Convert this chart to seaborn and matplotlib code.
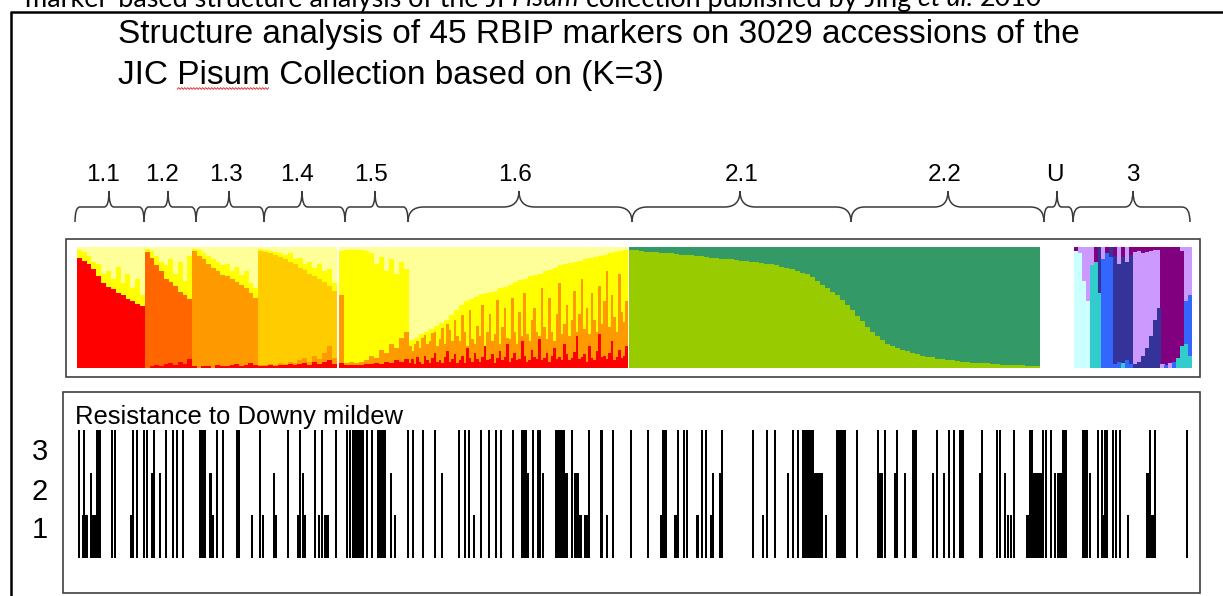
import numpy as np
import seaborn as sns
import matplotlib.pyplot as plt
from matplotlib.path import Path
from matplotlib.patches import PathPatch, Rectangle

# Cluster colours
cluster_colors = {
    'red': '#FF0000', 'darkorange': '#FF6600', 'orange': '#FF9900', 'gold': '#FFCC00',
    'yellow': '#FFFF00', 'lightyellow': '#FFFF99', 'yellowgreen': '#99CC00', 'seagreen': '#339966',
    'lightcyan': '#CCFFFF', 'turquoise': '#33CCCC', 'blue': '#3366FF', 'darkblue': '#333399',
    'lavender': '#CC99FF', 'purple': '#800080',
}

# Structure plot, cumulative membership per column (bottom -> top)
g11_main = [0.91, 0.89, 0.86, 0.82, 0.76, 0.70, 0.67, 0.65, 0.62, 0.60, 0.57, 0.55, 0.53, 0.51]
g11_fringe = [0.98, 0.96, 0.93, 0.88, 0.86, 0.78, 0.80, 0.74, 0.84, 0.70, 0.78, 0.66, 0.74, 0.60]

g12_red = [0.00, 0.01, 0.02, 0.01, 0.03, 0.04, 0.02, 0.05, 0.03, 0.07]
g12_main = [0.96, 0.91, 0.85, 0.80, 0.74, 0.71, 0.68, 0.63, 0.60, 0.57]
g12_fringe = [0.99, 0.97, 0.93, 0.88, 0.85, 0.90, 0.78, 0.88, 0.72, 0.93]

g13_red = [0.01, 0.00, 0.01, 0.01, 0.00, 0.02, 0.01, 0.01, 0.02, 0.03, 0.01, 0.02, 0.04, 0.02]
g13_main = [0.97, 0.93, 0.90, 0.86, 0.83, 0.80, 0.77, 0.76, 0.74, 0.71, 0.69, 0.66, 0.62, 0.58]
g13_fringe = [0.99, 0.98, 0.95, 0.93, 0.90, 0.88, 0.85, 0.86, 0.80, 0.84, 0.77, 0.80, 0.70, 0.66]

g14_red = [0.01, 0.01, 0.02, 0.01, 0.02, 0.02, 0.03, 0.02, 0.03, 0.04, 0.02, 0.05, 0.03, 0.05, 0.06, 0.03]
g14_orange = [0.02, 0.02, 0.03, 0.02, 0.04, 0.03, 0.05, 0.04, 0.06, 0.08, 0.05, 0.10, 0.07, 0.12, 0.18, 0.08]
g14_main = [0.97, 0.96, 0.95, 0.94, 0.92, 0.90, 0.88, 0.86, 0.83, 0.81, 0.78, 0.76, 0.74, 0.71, 0.68, 0.64]
g14_fringe = [0.99, 0.98, 0.97, 0.96, 0.95, 0.94, 0.95, 0.90, 0.91, 0.86, 0.88, 0.83, 0.86, 0.80, 0.82, 0.70]

g15_red = [0.04, 0.02, 0.02, 0.02, 0.02, 0.03, 0.03, 0.04, 0.03, 0.05, 0.04, 0.06, 0.05, 0.07]
g15_orange = [0.60, 0.04, 0.05, 0.04, 0.05, 0.06, 0.10, 0.08, 0.15, 0.12, 0.20, 0.16, 0.25, 0.30]
g15_main = [0.97, 0.98, 0.98, 0.98, 0.98, 0.97, 0.95, 0.86, 0.92, 0.80, 0.90, 0.78, 0.88, 0.82]

g16_red = [.04, .07, .03, .09, .05, .03, .10, .06, .04, .08, .12, .05, .06, .04, .09, .14, .05, .07, .11, .04,
           .06, .10, .04, .16, .08, .05, .12, .07, .05, .09, .18, .06, .07, .11, .04, .08, .14, .06, .09, .20,
           .05, .08, .12, .06, .07, .22, .10, .05, .06, .15, .09, .07, .24, .06, .08, .12, .05, .10, .16, .07,
           .09, .06, .20, .11, .06, .08, .13, .26, .07, .09, .11, .05, .18, .08, .06, .14, .28, .09, .10, .07,
           .12, .22, .06, .09, .15, .08, .10, .18]
g16_orange = [.18, .14, .20, .22, .16, .25, .27, .20, .22, .29, .30, .18, .24, .33, .20, .36, .31, .22, .40, .26,
              .22, .44, .30, .18, .48, .24, .20, .35, .26, .52, .18, .30, .45, .22, .28, .56, .20, .34, .50, .25,
              .24, .58, .30, .20, .46, .26, .62, .28, .22, .40, .50, .30, .26, .66, .34, .24, .58, .30, .22, .45,
              .70, .28, .36, .52, .26, .40, .64, .30, .45, .74, .32, .50, .28, .62, .40, .30, .68, .36, .55, .80,
              .34, .60, .42, .30, .78, .46, .38, .55]
g16_main = [.23, .25, .28, .30, .32, .35, .37, .40, .44, .48,
            .52, .55, .57, .59, .61, .62, .63, .64, .66, .67,
            .69, .71, .73, .74, .76, .77, .78, .80, .81, .83,
            .85, .86, .87, .88, .89, .90, .91, .92, .93, .94,
            .95, .96, .97, .98]

g2_main = [.98, .975, .97, .965, .96, .96, .955, .95, .95, .945,
           .94, .94, .935, .93, .925, .92, .915, .91, .905, .90,
           .90, .895, .89, .885, .88, .875, .87, .865, .86, .85,
           .84, .83, .82, .80, .79, .775, .75, .72, .69, .66,
           .63, .60, .56, .52, .48, .43, .39, .34, .30, .26,
           .23, .20, .18, .16, .145, .135, .125, .11, .10, .09,
           .085, .075, .07, .065, .06, .055, .05, .045, .04, .04,
           .035, .035, .03, .03, .025, .025, .02, .02, .02, .015,
           .015, .015]

g3_bottom = [0, 0, 0, 0, 0, 0, 0, 0, 0, 0, .03, .05, .04, .06, .03,
             .03, .05, .10, .16, .26, .40, .50, .03, .02, .04, .05, .08, .18, .20, .10]
g3_bottom_color = ['lightcyan', 'lightcyan', 'lightcyan', 'lightcyan', 'turquoise', 'turquoise',
                   'turquoise', 'blue', 'blue', 'blue', 'blue', 'blue', 'turquoise', 'blue', 'blue',
                   'darkblue', 'darkblue', 'darkblue', 'darkblue', 'darkblue', 'darkblue', 'darkblue',
                   'lavender', 'blue', 'lavender', 'blue', 'turquoise', 'turquoise', 'turquoise', 'turquoise']
g3_main = [.97, .95, .72, .55, .85, .88, .62, .90, .95, .92, .93, .86, .92, .88, .94,
           .96, .97, .95, .96, .97, .98, .98, .99, .99, .99, .99, .98, .97, .55, .60]
g3_main_color = ['lightcyan', 'lightcyan', 'lightcyan', 'lightcyan', 'turquoise', 'turquoise',
                 'turquoise', 'blue', 'blue', 'blue', 'darkblue', 'darkblue', 'darkblue', 'darkblue',
                 'darkblue', 'lavender', 'lavender', 'lavender', 'lavender', 'lavender', 'lavender',
                 'lavender', 'purple', 'purple', 'purple', 'purple', 'purple', 'purple', 'blue', 'blue']
g3_cap_color = ['purple', 'lavender', 'lavender', 'lavender', 'lavender', 'purple', 'darkblue',
                'lavender', 'purple', 'darkblue', 'purple', 'lavender', 'purple', 'lavender', 'purple',
                'purple', 'purple', 'purple', 'purple', 'purple', 'purple', 'purple', 'purple', 'purple',
                'purple', 'purple', 'purple', 'lavender', 'lavender', 'lavender']

group_labels = ['1.1', '1.2', '1.3', '1.4', '1.5', '1.6', '2.1', '2.2', 'U', '3']

# Resistance to downy mildew score (1-3) along the accession order
res_pos = [79, 83, 84, 85, 86, 87, 91, 92, 93, 94, 95, 96, 97, 98, 99, 100,
           112, 115, 131, 133, 137, 144, 147, 152, 153, 154, 160, 166, 173, 177, 183,
           200, 201, 202, 203, 204, 205, 210, 211, 213, 217, 223, 237, 239, 252, 260, 263,
           274, 276, 288, 298, 300, 303, 305, 315, 319, 322, 325, 326, 327, 328, 336,
           347, 350, 353, 354, 355, 356, 357, 358, 359, 360, 361, 362, 363, 367, 372,
           378, 379, 380, 381, 382, 383, 384, 385, 391, 395, 408, 413,
           423, 435, 442, 459, 465, 469, 474, 481, 489, 496, 501, 513,
           522, 523, 524, 525, 526, 527, 528, 533, 538, 539, 540, 543,
           556, 557, 558, 559, 560, 561, 562, 563, 564, 565, 566, 567, 572,
           575, 576, 577, 578, 580, 581, 585, 586, 587, 589, 601, 602, 607, 613,
           631, 648, 661, 662, 663, 664, 665, 666, 675, 676, 677, 678, 684, 687,
           697, 698, 702, 706, 711, 713, 720, 722, 753, 763, 767, 775, 788,
           793, 798, 803, 805, 806, 807, 808, 809, 810, 811, 812, 813,
           814, 815, 816, 818, 819, 820, 821, 822, 826,
           837, 838, 839, 840, 841, 842, 843, 844, 845, 857, 878, 880, 881, 882, 885,
           895, 897, 905, 913, 914, 915, 916, 933, 937, 944, 949, 954,
           960, 961, 962, 963, 980, 982, 997, 1000, 1005, 1008, 1011, 1014,
           1027, 1028, 1029, 1030, 1031, 1032, 1033, 1034, 1035, 1036, 1038, 1039, 1040, 1041, 1042,
           1043, 1046, 1051, 1055, 1058, 1059, 1060, 1061, 1063, 1064, 1065, 1066,
           1083, 1084, 1085, 1086, 1087, 1090, 1098, 1102, 1103, 1105, 1107,
           1113, 1116, 1120, 1128, 1147, 1148, 1150, 1151, 1152, 1153, 1155, 1187]
res_score = [3, 1, 3, 1, 1, 1, 2, 1, 1, 1, 1, 1, 3, 3, 3, 3,
             3, 3, 1, 3, 3, 3, 3, 2, 2, 3, 2, 3, 3, 3, 3,
             3, 3, 3, 3, 3, 3, 2, 2, 1, 3, 3, 3, 3, 1, 3, 1,
             2, 1, 3, 1, 3, 2, 1, 3, 1, 3, 1, 1, 1, 1, 3,
             3, 3, 3, 3, 3, 3, 3, 3, 3, 3, 3, 3, 3, 3, 3,
             3, 3, 3, 3, 3, 3, 3, 3, 2, 1, 3, 3,
             3, 3, 2, 3, 3, 3, 1, 3, 3, 3, 3, 3,
             3, 3, 3, 3, 3, 2, 2, 3, 3, 3, 3, 2,
             3, 3, 3, 3, 3, 3, 3, 3, 3, 2, 2, 2, 3,
             2, 2, 2, 2, 1, 1, 1, 1, 1, 3, 3, 3, 1, 3,
             3, 3, 1, 1, 3, 3, 3, 3, 1, 1, 1, 3, 3, 3,
             1, 1, 3, 3, 1, 2, 2, 3, 3, 1, 3, 3, 2,
             3, 3, 3, 3, 3, 3, 3, 3, 3, 3, 3, 3,
             2, 2, 2, 2, 2, 2, 2, 2, 1,
             3, 3, 3, 3, 3, 3, 3, 3, 3, 3, 3, 2, 2, 2, 3,
             2, 3, 2, 3, 3, 3, 3, 2, 3, 2, 3, 3,
             3, 3, 3, 3, 2, 3, 3, 3, 2, 1, 1, 3,
             1, 1, 1, 3, 3, 3, 2, 2, 2, 2, 2, 2, 2, 2, 2,
             3, 3, 3, 2, 2, 2, 2, 2, 3, 3, 3, 3,
             3, 3, 3, 3, 3, 2, 3, 3, 1, 3, 3,
             3, 3, 3, 1, 2, 2, 3, 1, 1, 1, 3, 3]

sns.set_theme(style='white')
plt.rcParams['font.family'] = ['Liberation Sans', 'DejaVu Sans']

W, H = 1223, 596
fig = plt.figure(figsize=(W / 100, H / 100), dpi=100)
fig.patch.set_facecolor('white')

# background axes in pixel coordinates (y downwards) for the slide decorations
bg = fig.add_axes([0, 0, 1, 1])
bg.set_xlim(0, W)
bg.set_ylim(H, 0)
bg.axis('off')
renderer = fig.canvas.get_renderer()


def px_axes(x0, y0, x1, y1):
    a = fig.add_axes([x0 / W, 1 - y1 / H, (x1 - x0) / W, (y1 - y0) / H])
    a.set_facecolor('none')
    return a


def text_w(s, size, family='Liberation Sans', style='normal'):
    t = bg.text(0, 0, s, fontsize=size, family=family, style=style)
    w = t.get_window_extent(renderer).width
    t.remove()
    return w


def layer(ax, x0, x1, tops, color):
    n = len(tops)
    xs = x0 + (x1 - x0) / n * (np.arange(n) + 0.5)
    kw = dict(native_scale=True, width=1.04, errorbar=None, saturation=1, linewidth=0, ax=ax)
    if isinstance(color, str):
        sns.barplot(x=xs, y=tops, color=cluster_colors[color], **kw)
    else:
        sns.barplot(x=xs, y=tops, hue=[str(i) for i in range(n)],
                    palette=[cluster_colors[c] for c in color], legend=False, **kw)


# slide border and the cut-off caption above it
bg.plot([10, W], [11.5, 11.5], color='black', lw=1.8, solid_capstyle='butt')
bg.plot([10.5, 10.5], [11.5, H], color='black', lw=1.8, solid_capstyle='butt')

cap_pieces = [('marker-based structure analysis of the JI', 'normal'), ('Pisum', 'italic'),
              ('collection published by Jing', 'normal'), ('et al.', 'italic'), ('2010', 'normal')]
base = 20
sp = text_w('a a', base, 'Lato') - text_w('aa', base, 'Lato')
total = sum(text_w(s, base, 'Lato', st) for s, st in cap_pieces) + sp * (len(cap_pieces) - 1)
cs = base * 1023 / total
sp = sp * cs / base
x = 25
for s, st in cap_pieces:
    bg.text(x, 6.5, s, fontsize=cs, family='Lato', style=st, va='baseline', color='black')
    x += text_w(s, cs, 'Lato', st) + sp

# title
line1 = 'Structure analysis of 45 RBIP markers on 3029 accessions of the'
line2 = 'JIC Pisum Collection based on (K=3)'
ts = 24 * 964 / text_w(line1, 24)
bg.text(118, 43, line1, fontsize=ts, va='baseline', color='black')
bg.text(118, 84, line2, fontsize=ts, va='baseline', color='black')
sq0 = 118 + text_w('JIC Pisum', ts) - text_w('Pisum', ts)
sq1 = sq0 + text_w('Pisum', ts)
sx = np.arange(sq0, sq1, 1.5)
bg.plot(sx, 88.5 + 0.9 * (-1) ** np.arange(len(sx)), color='#E02020', lw=0.6)

# group labels and braces
label_x = [103, 162, 226, 297, 371, 515, 742, 945, 1055, 1133]
brace_tip = [109, 168, 229, 302, 375, 519, 740, 948, 1057, 1133]
brace_edge = [75, 144, 196, 264, 345, 408, 632, 851, 1044, 1073, 1190]


def brace(x0, x1, xt, y_tip=191, y_mid=207, y_end=222):
    r = float(np.clip(0.07 * (x1 - x0), 4.5, 16))
    verts = [(x0, y_end), (x0, y_mid), (x0 + r, y_mid),
             (xt - r, y_mid), (xt, y_mid), (xt, y_tip),
             (xt, y_mid), (xt + r, y_mid),
             (x1 - r, y_mid), (x1, y_mid), (x1, y_end)]
    codes = [Path.MOVETO, Path.CURVE3, Path.CURVE3,
             Path.LINETO, Path.CURVE3, Path.CURVE3,
             Path.CURVE3, Path.CURVE3,
             Path.LINETO, Path.CURVE3, Path.CURVE3]
    bg.add_patch(PathPatch(Path(verts, codes), fill=False, ec='#3a3a3a', lw=1.1))


for i, lab in enumerate(group_labels):
    bg.text(label_x[i], 181, lab, fontsize=17.5, ha='center', va='baseline', color='black')
    brace(brace_edge[i], brace_edge[i + 1], brace_tip[i])

# structure panel
bg.add_patch(Rectangle((65.7, 239), 1134.3, 138, fill=False, ec='#404040', lw=1.2))
sax = px_axes(76.7, 247.3, 1192, 367.7)
ones = lambda v: [1.0] * len(v)

layer(sax, 76.7, 145, ones(g11_main), 'lightyellow')
layer(sax, 76.7, 145, g11_fringe, 'yellow')
layer(sax, 76.7, 145, g11_main, 'red')

layer(sax, 145, 192, ones(g12_main), 'lightyellow')
layer(sax, 145, 192, g12_fringe, 'yellow')
layer(sax, 145, 192, g12_main, 'darkorange')
layer(sax, 145, 192, g12_red, 'red')

layer(sax, 192, 258, ones(g13_main), 'lightyellow')
layer(sax, 192, 258, g13_fringe, 'yellow')
layer(sax, 192, 258, g13_main, 'orange')
layer(sax, 192, 258, g13_red, 'red')

layer(sax, 258, 337, ones(g14_main), 'lightyellow')
layer(sax, 258, 337, g14_fringe, 'yellow')
layer(sax, 258, 337, g14_main, 'gold')
layer(sax, 258, 337, g14_orange, 'orange')
layer(sax, 258, 337, g14_red, 'red')

layer(sax, 339, 409, ones(g15_main), 'lightyellow')
layer(sax, 339, 409, g15_main, 'yellow')
layer(sax, 339, 409, g15_orange, 'orange')
layer(sax, 339, 409, g15_red, 'red')

layer(sax, 409, 628, ones(g16_main), 'lightyellow')
layer(sax, 409, 628, g16_main, 'yellow')
layer(sax, 409, 628, g16_orange, 'orange')
layer(sax, 409, 628, g16_red, 'red')

layer(sax, 629, 1040, ones(g2_main), 'seagreen')
layer(sax, 629, 1040, g2_main, 'yellowgreen')

layer(sax, 1074, 1192, ones(g3_main), g3_cap_color)
layer(sax, 1074, 1192, g3_main, g3_main_color)
layer(sax, 1074, 1192, g3_bottom, g3_bottom_color)

sax.set_xlim(76.7, 1192)
sax.set_ylim(0, 1)
sax.axis('off')

# resistance panel
bg.add_patch(Rectangle((63, 392), 1137, 201, fill=False, ec='#404040', lw=1.2))
bg.text(75, 424, 'Resistance to Downy mildew', fontsize=18.5 * 329 / text_w('Resistance to Downy mildew', 18.5),
        va='baseline', color='black')
for lab, yy in zip(['3', '2', '1'], [452, 492, 530]):
    bg.text(40, yy, lab, fontsize=21, ha='center', va='center', color='black')

rax = px_axes(70, 430, 1195, 558)
sns.barplot(x=res_pos, y=res_score, native_scale=True, width=2, color='black',
            errorbar=None, saturation=1, linewidth=0, ax=rax)
rax.set_xlim(70, 1195)
rax.set_ylim(0, 3)
rax.axis('off')

fig.savefig('out.png', dpi=100)
